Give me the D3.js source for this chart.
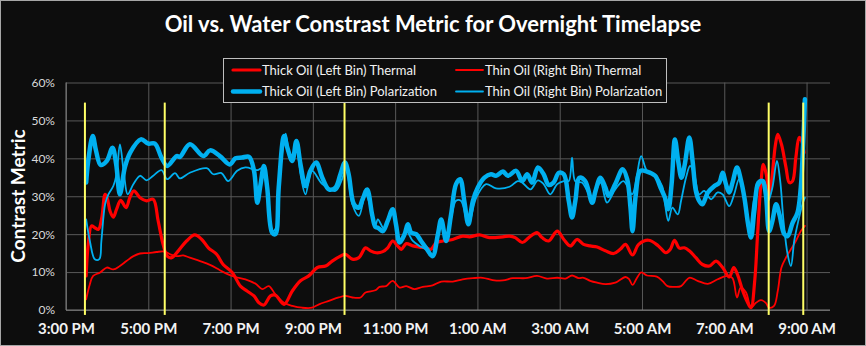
<!DOCTYPE html>
<html lang="en">
<head>
    <meta charset="UTF-8">
    <title>Oil vs. Water Contrast Metric</title>
    <script src="https://d3js.org/d3.v7.min.js"></script>
    <style>
        body { margin: 0; background: #0d0d0d; }
        svg { display: block; font-family: Lato, "Open Sans", sans-serif; }
        .grid line { stroke: #595959; stroke-width: 1; }
        .grid path { display: none; }
        .ylab text { fill: #d9d9d9; font-size: 12px; }
        .xlab text { fill: #f2f2f2; font-size: 15px; font-weight: bold; }
        .series { fill: none; stroke-linejoin: round; stroke-linecap: round; }
    </style>
</head>
<body>
    <script>
        // Values: [hour of day (15 = 3 PM, 33 = 9 AM next day), percent]
        const thickThermal = [
            [15.49,9.0],[15.54,17.3],[15.62,22.2],[15.70,21.7],[15.79,21.3],[15.87,24.4],[15.95,30.5],[16.00,29.6],
            [16.07,26.1],[16.15,24.5],[16.23,26.6],[16.33,28.9],[16.46,27.0],[16.55,29.6],[16.65,31.4],[16.80,29.6],
            [16.96,28.8],[17.12,29.2],[17.24,23.5],[17.36,17.3],[17.46,14.2],[17.57,13.8],[17.73,15.6],[17.93,18.2],
            [18.13,19.8],[18.30,18.6],[18.46,16.4],[18.66,14.7],[18.82,12.0],[19.04,9.9],[19.24,6.3],[19.40,5.0],
            [19.57,3.7],[19.69,1.9],[19.81,1.3],[19.97,3.7],[20.09,3.9],[20.30,1.5],[20.50,5.0],[20.70,7.7],
            [20.90,9.0],[21.11,11.2],[21.31,11.6],[21.47,12.9],[21.67,14.2],[21.79,14.7],[21.96,13.4],[22.12,13.8],
            [22.28,16.4],[22.40,15.6],[22.54,15.1],[22.70,15.4],[22.82,16.4],[22.94,18.2],[23.06,16.9],[23.15,16.0],
            [23.27,17.5],[23.43,16.9],[23.59,16.6],[23.75,16.4],[23.87,16.0],[24.00,17.8],[24.16,18.2],[24.40,18.6],
            [24.64,19.5],[24.81,19.3],[25.05,19.8],[25.29,19.1],[25.62,19.3],[25.78,19.5],[25.92,19.1],[26.09,17.8],
            [26.25,19.1],[26.45,20.4],[26.57,19.1],[26.73,18.2],[26.94,20.8],[27.10,18.6],[27.26,16.9],[27.42,18.6],
            [27.58,17.3],[27.74,16.9],[27.91,16.6],[28.11,15.6],[28.31,14.9],[28.47,16.0],[28.60,17.3],[28.77,14.5],
            [28.92,17.3],[29.16,18.4],[29.40,16.9],[29.58,15.1],[29.69,16.0],[29.79,18.4],[29.91,16.3],[30.03,16.4],
            [30.15,15.6],[30.31,13.8],[30.47,12.0],[30.64,11.6],[30.80,12.9],[30.96,11.2],[31.12,8.7],[31.23,11.2],
            [31.32,9.4],[31.45,5.0],[31.57,1.9],[31.65,0.6],[31.74,7.7],[31.81,20.0],[31.89,33.2],[31.95,38.4],
            [32.02,35.8],[32.09,30.5],[32.15,34.0],[32.24,43.3],[32.30,46.3],[32.39,43.7],[32.50,37.6],[32.58,33.6],
            [32.66,34.0],[32.74,40.2],[32.82,45.5],[32.88,44.6],[32.94,41.5]
        ];

        const thinThermal = [
            [15.49,2.8],[15.58,6.8],[15.66,9.0],[15.83,9.9],[15.99,11.2],[16.15,10.7],[16.31,11.6],[16.47,12.9],
            [16.64,14.2],[16.80,14.9],[17.00,15.0],[17.20,15.3],[17.40,15.4],[17.53,14.7],[17.69,14.2],[17.85,14.4],
            [18.01,13.8],[18.26,12.9],[18.50,11.9],[18.74,10.5],[18.90,9.6],[19.12,8.7],[19.36,8.1],[19.61,6.9],
            [19.77,5.5],[19.93,6.3],[20.09,4.1],[20.30,1.9],[20.50,1.1],[20.74,0.6],[20.98,0.6],[21.15,1.5],
            [21.39,2.4],[21.63,3.3],[21.79,3.7],[21.96,3.3],[22.16,3.3],[22.28,4.6],[22.52,5.2],[22.62,6.1],
            [22.78,6.3],[22.94,7.7],[23.11,5.9],[23.27,6.3],[23.47,5.5],[23.67,6.1],[23.91,6.5],[24.12,7.5],
            [24.40,7.5],[24.64,8.1],[24.89,8.4],[25.13,8.5],[25.37,7.9],[25.62,7.8],[25.86,8.4],[26.17,8.4],
            [26.45,9.0],[26.69,8.3],[26.94,8.5],[27.14,8.3],[27.30,9.1],[27.46,8.4],[27.58,8.5],[27.74,7.7],
            [27.91,7.2],[28.11,6.8],[28.35,7.2],[28.60,8.7],[28.69,8.1],[28.77,6.6],[28.88,8.5],[28.98,9.9],
            [29.12,9.1],[29.36,8.8],[29.50,7.6],[29.62,6.3],[29.79,6.1],[29.95,6.3],[30.15,8.5],[30.35,7.7],
            [30.60,6.9],[30.84,8.1],[31.08,9.0],[31.20,8.4],[31.31,3.3],[31.40,5.9],[31.53,4.6],[31.65,0.6],
            [31.77,1.9],[31.89,2.6],[32.01,1.9],[32.09,0.6],[32.21,1.1],[32.30,5.0],[32.39,11.2],[32.50,13.8],
            [32.62,16.0],[32.74,18.2],[32.86,20.8],[32.96,22.2]
        ];

        const thickPolar = [
            [15.49,33.6],[15.54,39.3],[15.65,45.9],[15.73,42.0],[15.84,38.3],[15.99,39.3],[16.13,42.8],[16.22,38.4],
            [16.31,30.5],[16.43,37.6],[16.56,41.5],[16.82,45.0],[17.00,43.9],[17.16,43.9],[17.32,40.2],[17.46,38.0],
            [17.69,40.6],[17.77,40.4],[18.01,43.7],[18.34,40.6],[18.50,42.1],[18.74,40.6],[18.98,38.4],[19.12,40.0],
            [19.28,40.2],[19.45,40.4],[19.57,36.7],[19.65,28.3],[19.73,33.2],[19.81,38.0],[19.89,32.3],[20.01,20.4],
            [20.09,20.0],[20.17,32.3],[20.30,45.9],[20.38,42.8],[20.50,39.3],[20.60,44.6],[20.70,38.4],[20.82,32.7],
            [20.94,36.7],[21.08,38.9],[21.23,34.9],[21.39,31.8],[21.55,32.3],[21.67,35.8],[21.78,38.9],[21.87,35.8],
            [22.00,27.9],[22.12,27.0],[22.21,29.2],[22.32,31.8],[22.44,25.2],[22.52,21.9],[22.58,21.7],[22.70,20.8],
            [22.82,23.5],[22.94,26.6],[23.02,22.6],[23.11,17.8],[23.23,20.0],[23.31,22.6],[23.39,20.4],[23.51,20.0],
            [23.63,18.2],[23.75,16.4],[23.91,14.2],[24.04,20.0],[24.12,23.9],[24.24,18.2],[24.36,25.2],[24.48,33.2],
            [24.58,34.5],[24.68,28.8],[24.78,22.6],[24.89,28.8],[25.01,32.3],[25.17,34.9],[25.33,35.8],[25.45,35.4],
            [25.62,36.5],[25.74,35.4],[25.94,36.7],[26.09,34.0],[26.21,35.8],[26.33,33.6],[26.47,37.6],[26.61,35.8],
            [26.73,33.0],[26.85,33.6],[26.98,36.2],[27.10,35.8],[27.22,28.8],[27.30,24.4],[27.38,28.8],[27.48,34.9],
            [27.62,34.0],[27.79,28.3],[27.87,31.4],[27.99,34.9],[28.11,32.3],[28.19,30.1],[28.35,33.2],[28.53,37.1],
            [28.64,34.5],[28.72,27.0],[28.77,20.8],[28.85,30.5],[28.96,36.7],[29.12,36.5],[29.32,35.4],[29.45,32.3],
            [29.56,29.6],[29.64,26.6],[29.72,33.2],[29.80,45.0],[29.88,39.3],[29.96,34.9],[30.04,38.4],[30.15,45.5],
            [30.23,39.3],[30.31,31.4],[30.39,28.8],[30.47,27.9],[30.60,31.0],[30.76,32.7],[30.88,33.6],[30.96,36.2],
            [31.04,33.2],[31.12,31.0],[31.20,33.6],[31.31,37.6],[31.40,34.5],[31.49,29.6],[31.58,22.6],[31.65,19.1],
            [31.73,26.1],[31.83,33.6],[31.93,34.0],[32.01,30.5],[32.09,20.8],[32.17,23.5],[32.26,27.9],[32.34,25.2],
            [32.46,20.0],[32.54,19.5],[32.66,23.0],[32.78,25.7],[32.86,32.3],[32.92,44.6],[32.96,55.6]
        ];

        const thinPolar = [
            [15.49,23.9],[15.58,18.2],[15.70,13.4],[15.81,13.4],[15.86,18.2],[15.95,27.9],[16.03,30.5],[16.15,32.7],
            [16.23,35.8],[16.31,43.7],[16.41,35.8],[16.50,30.5],[16.64,33.2],[16.80,35.4],[16.96,34.2],[17.12,35.4],
            [17.32,36.9],[17.46,34.5],[17.65,36.1],[17.77,34.7],[18.01,36.2],[18.42,37.4],[18.58,35.8],[18.78,36.1],
            [18.94,34.0],[19.16,36.7],[19.36,37.6],[19.65,36.9],[19.77,37.4],[19.89,31.4],[20.01,20.8],[20.11,21.7],
            [20.21,36.7],[20.34,46.5],[20.46,39.3],[20.60,42.4],[20.70,35.8],[20.82,30.5],[20.98,36.7],[21.23,33.2],
            [21.55,31.4],[21.71,34.5],[21.81,38.0],[21.96,27.9],[22.12,24.8],[22.28,30.5],[22.44,25.7],[22.52,22.2],
            [22.58,23.9],[22.74,21.3],[22.94,26.1],[23.11,18.2],[23.27,20.8],[23.43,18.2],[23.59,16.9],[23.75,16.0],
            [23.91,14.2],[24.12,23.5],[24.24,18.2],[24.48,28.8],[24.60,28.8],[24.78,22.6],[24.97,29.6],[25.21,33.2],
            [25.45,32.1],[25.78,32.5],[25.98,34.0],[26.09,33.6],[26.29,31.8],[26.47,34.2],[26.61,33.2],[26.77,30.5],
            [26.94,33.2],[27.10,34.0],[27.22,34.0],[27.30,40.2],[27.38,33.9],[27.54,33.6],[27.79,29.6],[27.99,33.6],
            [28.15,28.3],[28.35,31.8],[28.55,34.0],[28.76,30.5],[28.88,35.8],[28.98,40.6],[29.12,36.7],[29.32,35.4],
            [29.49,32.7],[29.56,27.9],[29.64,23.5],[29.74,27.0],[29.87,25.2],[29.95,28.8],[30.07,34.9],[30.17,38.0],
            [30.27,35.8],[30.39,30.5],[30.51,31.4],[30.68,29.2],[30.84,31.0],[30.96,30.5],[31.12,27.4],[31.24,30.5],
            [31.36,34.5],[31.49,28.8],[31.61,20.0],[31.73,29.6],[31.89,33.6],[31.97,34.2],[32.07,28.8],[32.17,32.3],
            [32.28,39.3],[32.36,34.0],[32.44,23.5],[32.54,14.7],[32.62,11.6],[32.70,18.2],[32.80,23.5],[32.90,27.9],
            [32.96,29.6]
        ];

        // Yellow event markers (hours) and axis ticks
        const markerHours = [15.46, 17.40, 21.77, 32.08, 32.92];
        const xTickHours = [15, 17, 19, 21, 23, 25, 27, 29, 31, 33];
        const xTickLabels = ["3:00 PM", "5:00 PM", "7:00 PM", "9:00 PM", "11:00 PM",
                             "1:00 AM", "3:00 AM", "5:00 AM", "7:00 AM", "9:00 AM"];
        const yTicks = [0, 10, 20, 30, 40, 50, 60];

        const seriesNames = ["Thick Oil (Left Bin) Thermal", "Thin Oil (Right Bin) Thermal",
                             "Thick Oil (Left Bin) Polarization", "Thin Oil (Right Bin) Polarization"];

        // Canvas
        const width = 866;
        const height = 346;
        const plot = { left: 66, right: 830, top: 82.5, bottom: 310 };

        const svg = d3.select("body").append("svg")
            .attr("width", width)
            .attr("height", height);

        svg.append("rect")
            .attr("x", 0.5).attr("y", 0.5)
            .attr("width", width - 1).attr("height", height - 1)
            .attr("fill", "#0d0d0d")
            .attr("stroke", "#a6a6a6");

        // Scales
        const x = d3.scaleLinear().domain([15, 33.57]).range([plot.left, plot.right]);
        const y = d3.scaleLinear().domain([0, 60]).range([plot.bottom, plot.top]);

        // Gridlines + labels through the axes
        svg.append("g")
            .attr("class", "grid ylab")
            .attr("transform", `translate(${plot.left},0)`)
            .call(d3.axisLeft(y)
                .tickValues(yTicks)
                .tickFormat(d => d + "%")
                .tickSize(-(plot.right - plot.left))
                .tickPadding(11))
            .call(g => g.attr("font-family", null));

        svg.append("g")
            .attr("class", "grid xlab")
            .attr("transform", `translate(0,${plot.bottom})`)
            .call(d3.axisBottom(x)
                .tickValues(xTickHours)
                .tickFormat((d, i) => xTickLabels[i])
                .tickSize(-(plot.bottom - plot.top))
                .tickPadding(13))
            .call(g => g.attr("font-family", null));

        // Axis lines
        svg.append("line")
            .attr("x1", plot.left).attr("x2", plot.right)
            .attr("y1", plot.bottom).attr("y2", plot.bottom)
            .attr("stroke", "#7f7f7f");
        svg.append("line")
            .attr("x1", plot.left).attr("x2", plot.left)
            .attr("y1", plot.top).attr("y2", plot.bottom)
            .attr("stroke", "#7f7f7f");

        // Series
        const line = d3.line()
            .x(d => x(d[0]))
            .y(d => y(d[1]))
            .curve(d3.curveCatmullRom.alpha(0.5));

        const series = [
            { data: thickThermal, color: "#ff0000", w: 3.2 },
            { data: thinThermal, color: "#ff0000", w: 1.8 },
            { data: thickPolar, color: "#00b0f0", w: 4.5 },
            { data: thinPolar, color: "#00b0f0", w: 1.8 }
        ];

        svg.selectAll("path.series")
            .data(series)
            .enter().append("path")
            .attr("class", "series")
            .attr("d", d => line(d.data))
            .attr("stroke", d => d.color)
            .attr("stroke-width", d => d.w);

        // Yellow markers
        svg.selectAll("line.marker")
            .data(markerHours)
            .enter().append("line")
            .attr("class", "marker")
            .attr("x1", d => x(d)).attr("x2", d => x(d))
            .attr("y1", y(54.7)).attr("y2", y(-1.3))
            .attr("stroke", "#ffff66")
            .attr("stroke-width", 2);

        // Title
        svg.append("text")
            .attr("x", 433).attr("y", 32)
            .attr("text-anchor", "middle")
            .attr("fill", "#ffffff")
            .attr("font-size", 22)
            .attr("font-weight", "bold")
            .text("Oil vs. Water Constrast Metric for Overnight Timelapse");

        // Y axis title
        svg.append("text")
            .attr("transform", "translate(25,196) rotate(-90)")
            .attr("text-anchor", "middle")
            .attr("fill", "#ffffff")
            .attr("font-size", 19)
            .attr("font-weight", "bold")
            .text("Contrast Metric");

        // Legend
        const legend = svg.append("g");
        legend.append("rect")
            .attr("x", 223.5).attr("y", 58.5)
            .attr("width", 443).attr("height", 44)
            .attr("fill", "#0d0d0d")
            .attr("stroke", "#bfbfbf");

        const legendPos = [[233, 70], [456, 70], [233, 91.5], [456, 91.5]];
        series.forEach((s, i) => {
            const [lx, ly] = legendPos[i];
            legend.append("line")
                .attr("x1", lx).attr("x2", lx + 27)
                .attr("y1", ly).attr("y2", ly)
                .attr("stroke", s.color)
                .attr("stroke-width", s.w)
                .attr("stroke-linecap", "round");
            legend.append("text")
                .attr("x", lx + 29).attr("y", ly)
                .attr("dy", "0.35em")
                .attr("fill", "#f2f2f2")
                .attr("font-size", 13)
                .text(seriesNames[i]);
        });
    </script>
</body>
</html>
